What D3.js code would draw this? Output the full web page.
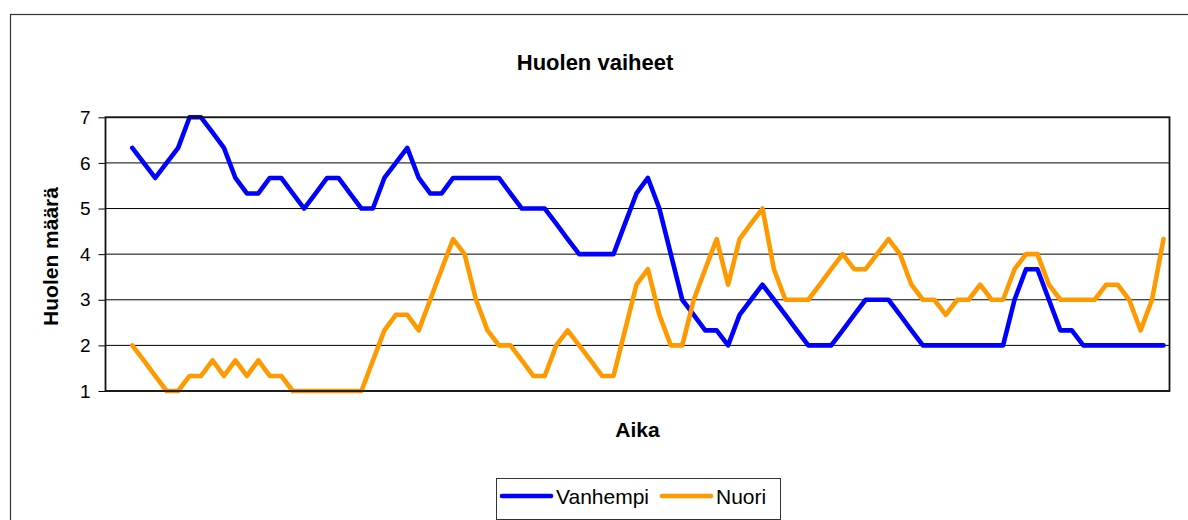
<!DOCTYPE html>
<html>
<head>
<meta charset="utf-8">
<script src="https://cdn.jsdelivr.net/npm/d3@7"></script>
<style>
    body { margin: 0; background: #fff; }
    svg { display: block; font-family: Arial, "Liberation Sans", sans-serif; }
</style>
</head>
<body>
<div id="chart"></div>
<script>
// Huolen vaiheet - two worry series over time
var title = "Huolen vaiheet";
var yTitle = "Huolen määrä";
var xTitle = "Aika";
var seriesNames = ["Vanhempi", "Nuori"];
var seriesColors = ["#0000ff", "#ff9900"];
var yTicks = [1, 2, 3, 4, 5, 6, 7];

var vanhempi = [6.33, 6, 5.67, 6, 6.33, 7, 7, 6.67, 6.33, 5.67, 5.33, 5.33, 5.67, 5.67, 5.33, 5, 5.33, 5.67, 5.67, 5.33, 5, 5,
    5.67, 6, 6.33, 5.67, 5.33, 5.33, 5.67, 5.67, 5.67, 5.67, 5.67, 5.33, 5, 5, 5, 4.67, 4.33, 4, 4, 4, 4, 4.67, 5.33,
    5.67, 5, 4, 3, 2.67, 2.33, 2.33, 2, 2.67, 3, 3.33, 3, 2.67, 2.33, 2, 2, 2, 2.33, 2.67, 3, 3, 3,
    2.67, 2.33, 2, 2, 2, 2, 2, 2, 2, 2, 3, 3.67, 3.67, 3, 2.33, 2.33, 2, 2, 2, 2, 2, 2, 2, 2];

var nuori = [2, 1.67, 1.33, 1, 1, 1.33, 1.33, 1.67, 1.33, 1.67, 1.33, 1.67, 1.33, 1.33, 1, 1, 1, 1, 1, 1, 1, 1.67,
    2.33, 2.67, 2.67, 2.33, 3, 3.67, 4.33, 4, 3, 2.33, 2, 2, 1.67, 1.33, 1.33, 2, 2.33, 2, 1.67, 1.33, 1.33, 2.33,
    3.33, 3.67, 2.67, 2, 2, 3, 3.67, 4.33, 3.33, 4.33, 4.67, 5, 3.67, 3, 3, 3, 3.33, 3.67, 4, 3.67, 3.67, 4, 4.33,
    4, 3.33, 3, 3, 2.67, 3, 3, 3.33, 3, 3, 3.67, 4, 4, 3.33, 3, 3, 3, 3, 3.33, 3.33, 3, 2.33, 3, 4.33];

var svgwidth = 1188;
var svgheight = 520;
var plot = {left: 105.5, right: 1169.5, top: 117.3, bottom: 391};

var svg = d3.select("#chart")
    .append("svg")
    .attr("width", svgwidth)
    .attr("height", svgheight);

// outer chart frame (cut off at right / bottom)
svg.append("rect")
    .attr("x", 10.5).attr("y", 14.5)
    .attr("width", 1300).attr("height", 700)
    .attr("fill", "none")
    .attr("stroke", "#333")
    .attr("stroke-width", 1.2);

var n = vanhempi.length;
var x = d3.scaleLinear().domain([0, n - 1]).range([132.3, 1163.5]);
var y = d3.scaleLinear().domain([1, 7]).range([plot.bottom, plot.top]);

// gridlines
svg.append("g")
    .selectAll("line")
    .data(yTicks)
    .enter().append("line")
    .attr("x1", plot.left).attr("x2", plot.right)
    .attr("y1", function(d) { return y(d); })
    .attr("y2", function(d) { return y(d); })
    .attr("stroke", "#000")
    .attr("stroke-width", 1);

// y axis
var yAxis = d3.axisLeft(y).tickValues(yTicks).tickSize(7).tickPadding(8).tickFormat(d3.format("d"));
var yAxisg = svg.append("g")
    .attr("transform", "translate(" + plot.left + ",0)")
    .call(yAxis);
yAxisg.select(".domain").remove();
yAxisg.selectAll("line").attr("stroke", "#000");
yAxisg.selectAll("text")
    .attr("font-size", 19)
    .attr("font-family", "Arial, 'Liberation Sans', sans-serif")
    .attr("fill", "#000");

// series lines
var line = d3.line()
    .x(function(d, i) { return x(i); })
    .y(function(d) { return y(d); });

[vanhempi, nuori].forEach(function(s, k) {
    svg.append("path")
        .datum(s)
        .attr("d", line)
        .attr("fill", "none")
        .attr("stroke", seriesColors[k])
        .attr("stroke-width", 4.6)
        .attr("stroke-linejoin", "round")
        .attr("stroke-linecap", "round");
});

// plot area border
svg.append("rect")
    .attr("x", plot.left).attr("y", plot.top)
    .attr("width", plot.right - plot.left)
    .attr("height", plot.bottom - plot.top)
    .attr("fill", "none")
    .attr("stroke", "#111")
    .attr("stroke-width", 1.8);

// titles
svg.append("text")
    .attr("x", 595).attr("y", 69.5)
    .attr("text-anchor", "middle")
    .attr("font-size", 22)
    .attr("font-weight", "bold")
    .text(title);

svg.append("text")
    .attr("x", (plot.left + plot.right) / 2).attr("y", 437)
    .attr("text-anchor", "middle")
    .attr("font-size", 21)
    .attr("font-weight", "bold")
    .text(xTitle);

svg.append("text")
    .attr("transform", "translate(57.5,256.5) rotate(-90)")
    .attr("text-anchor", "middle")
    .attr("font-size", 21)
    .attr("font-weight", "bold")
    .text(yTitle);

// legend
var legend = svg.append("g");
legend.append("rect")
    .attr("x", 496.5).attr("y", 478.5)
    .attr("width", 284).attr("height", 41)
    .attr("fill", "#fff")
    .attr("stroke", "#333")
    .attr("stroke-width", 1);

var legendX = [502, 662];
seriesNames.forEach(function(name, k) {
    legend.append("line")
        .attr("x1", legendX[k]).attr("x2", legendX[k] + 49)
        .attr("y1", 496).attr("y2", 496)
        .attr("stroke", seriesColors[k])
        .attr("stroke-width", 4.6)
        .attr("stroke-linecap", "round");
    legend.append("text")
        .attr("x", legendX[k] + 54).attr("y", 503.5)
        .attr("font-size", 21)
        .text(name);
});
</script>
</body>
</html>
